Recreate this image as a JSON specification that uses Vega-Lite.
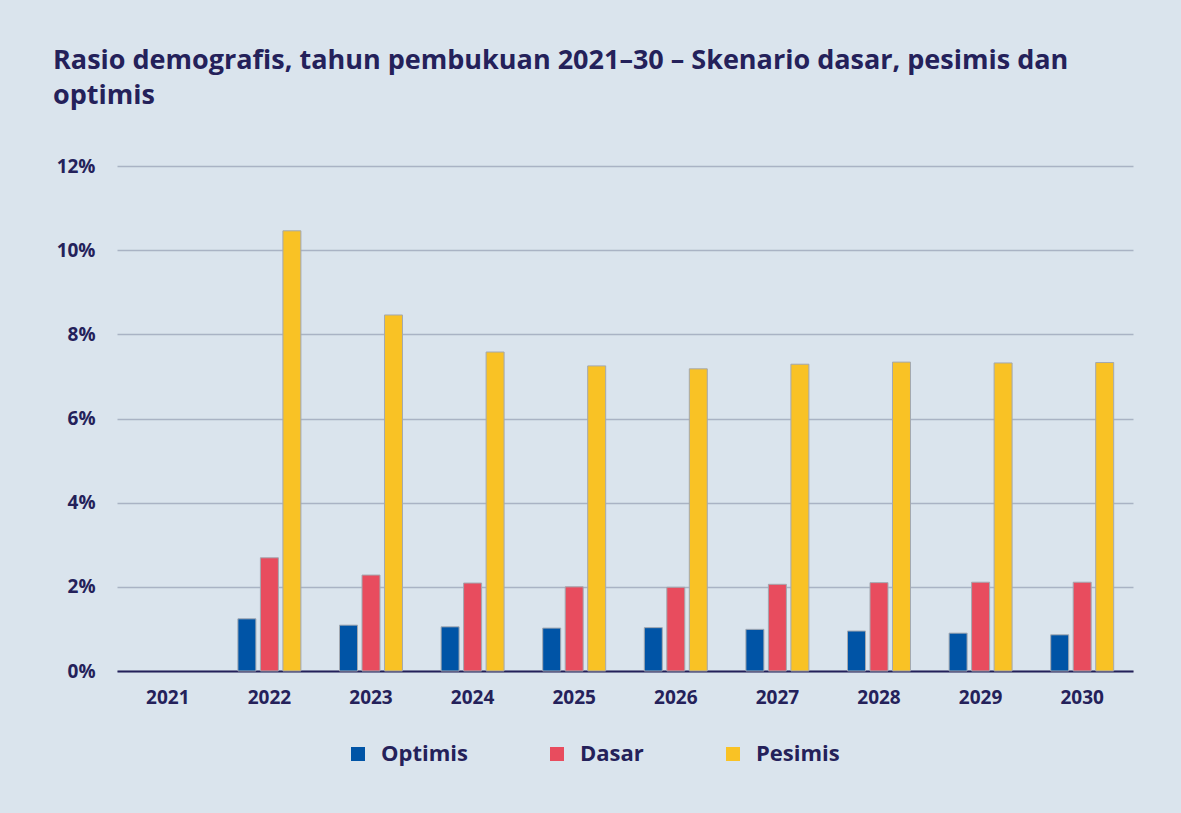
{
  "$schema": "https://vega.github.io/schema/vega-lite/v6.json",
  "width": 1016,
  "height": 505,
  "autosize": {"type": "none"},
  "padding": {"left": 117, "top": 166, "right": 48, "bottom": 142},
  "background": "#dae4ed",
  "config": {"view": {"stroke": null}, "font": "Open Sans"},
  "title": {
    "text": ["Rasio demografis, tahun pembukuan 2021–30 – Skenario dasar, pesimis dan", "optimis"],
    "anchor": "start",
    "frame": "group",
    "dx": -64,
    "offset": 47,
    "fontSize": 27,
    "fontWeight": "bold",
    "color": "#24215a",
    "lineHeight": 35,
    "font": "Open Sans"
  },
  "data": {
    "values": [
      {"year": "2022", "scenario": "Optimis", "value": 1.24},
      {"year": "2022", "scenario": "Dasar", "value": 2.69},
      {"year": "2022", "scenario": "Pesimis", "value": 10.46},
      {"year": "2023", "scenario": "Optimis", "value": 1.09},
      {"year": "2023", "scenario": "Dasar", "value": 2.28},
      {"year": "2023", "scenario": "Pesimis", "value": 8.46},
      {"year": "2024", "scenario": "Optimis", "value": 1.05},
      {"year": "2024", "scenario": "Dasar", "value": 2.09},
      {"year": "2024", "scenario": "Pesimis", "value": 7.58},
      {"year": "2025", "scenario": "Optimis", "value": 1.02},
      {"year": "2025", "scenario": "Dasar", "value": 2.0},
      {"year": "2025", "scenario": "Pesimis", "value": 7.25},
      {"year": "2026", "scenario": "Optimis", "value": 1.03},
      {"year": "2026", "scenario": "Dasar", "value": 1.99},
      {"year": "2026", "scenario": "Pesimis", "value": 7.18},
      {"year": "2027", "scenario": "Optimis", "value": 0.99},
      {"year": "2027", "scenario": "Dasar", "value": 2.06},
      {"year": "2027", "scenario": "Pesimis", "value": 7.29},
      {"year": "2028", "scenario": "Optimis", "value": 0.95},
      {"year": "2028", "scenario": "Dasar", "value": 2.1},
      {"year": "2028", "scenario": "Pesimis", "value": 7.34},
      {"year": "2029", "scenario": "Optimis", "value": 0.9},
      {"year": "2029", "scenario": "Dasar", "value": 2.11},
      {"year": "2029", "scenario": "Pesimis", "value": 7.32},
      {"year": "2030", "scenario": "Optimis", "value": 0.86},
      {"year": "2030", "scenario": "Dasar", "value": 2.11},
      {"year": "2030", "scenario": "Pesimis", "value": 7.33}
    ]
  },
  "mark": {"type": "bar", "stroke": "#a3a8b0", "strokeWidth": 1},
  "encoding": {
    "x": {
      "field": "year",
      "type": "nominal",
      "scale": {
        "domain": ["2021", "2022", "2023", "2024", "2025", "2026", "2027", "2028", "2029", "2030"],
        "paddingInner": 0.38,
        "paddingOuter": 0.19
      },
      "axis": {
        "title": null,
        "labelAngle": 0,
        "labelFontSize": 19,
        "labelFontWeight": "bold",
        "labelColor": "#24215a",
        "labelPadding": 17,
        "ticks": false,
        "domainColor": "#24215a",
        "domainWidth": 2
      }
    },
    "xOffset": {
      "field": "scenario",
      "type": "nominal",
      "sort": ["Optimis", "Dasar", "Pesimis"],
      "scale": {"paddingInner": 0.2, "paddingOuter": 0}
    },
    "y": {
      "field": "value",
      "type": "quantitative",
      "scale": {"domain": [0, 12], "nice": false},
      "axis": {
        "title": null,
        "values": [0, 2, 4, 6, 8, 10, 12],
        "labelExpr": "datum.value + '%'",
        "labelFontSize": 19,
        "labelFontWeight": "bold",
        "labelColor": "#24215a",
        "labelPadding": 22,
        "ticks": false,
        "domain": false,
        "gridColor": "#a9b3c4",
        "gridWidth": 1.5
      }
    },
    "color": {
      "field": "scenario",
      "type": "nominal",
      "scale": {"domain": ["Optimis", "Dasar", "Pesimis"], "range": ["#0054a6", "#e84c5e", "#f9c225"]},
      "legend": {
        "title": null,
        "orient": "none",
        "direction": "horizontal",
        "legendX": 230,
        "legendY": 577,
        "symbolType": "square",
        "symbolSize": 196,
        "symbolStrokeWidth": 0,
        "labelFontSize": 22,
        "labelFontWeight": "bold",
        "labelColor": "#24215a",
        "labelOffset": 12,
        "columnPadding": 78
      }
    }
  }
}
